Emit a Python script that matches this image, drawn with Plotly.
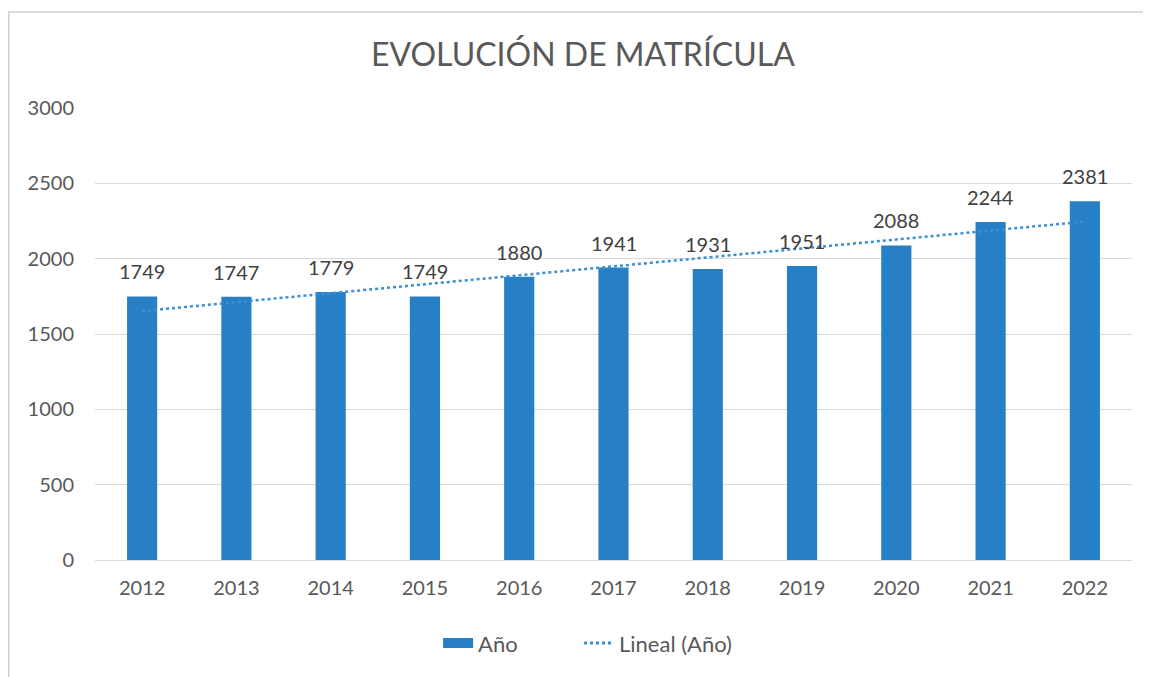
import plotly.graph_objects as go

years = ["2012", "2013", "2014", "2015", "2016", "2017", "2018", "2019", "2020", "2021", "2022"]
matricula = [1749, 1747, 1779, 1749, 1880, 1941, 1931, 1951, 2088, 2244, 2381]
trend_years = ["2012", "2022"]
trend_values = [1652, 2246]
y_ticks = [0, 500, 1000, 1500, 2000, 2500, 3000]

FONT = "Lato, 'Open Sans', sans-serif"
GREY = "#595959"
BLUE = "#2780C6"

W, H = 1143, 669
L, T, PW, PH = 87, 100, 1037, 452

fig = go.Figure()
fig.add_trace(go.Bar(
    x=years, y=matricula, name="Año", showlegend=False,
    marker=dict(color=BLUE, line=dict(width=0)),
))
fig.add_trace(go.Scatter(
    x=trend_years, y=trend_values, name="Lineal (Año)", mode="lines", showlegend=False,
    line=dict(color="#3A8FD6", width=2.5, dash="dot"),
))
# legend entries
fig.add_trace(go.Scatter(
    x=[years[0]], y=[None], name="Año" + "\u00a0" * 10, mode="lines",
    line=dict(color=BLUE, width=12),
))
fig.add_trace(go.Scatter(
    x=[years[0]], y=[None], name="Lineal (Año)", mode="lines",
    line=dict(color="#3A8FD6", width=3, dash="dot"),
))

annotations = [
    dict(x=i, y=v, xref="x", yref="y", text=str(v), showarrow=False,
         yanchor="bottom", yshift=11,
         font=dict(size=20, color="#404040", family=FONT))
    for i, v in enumerate(matricula)
]

fig.update_layout(
    width=W, height=H,
    paper_bgcolor="white", plot_bgcolor="white",
    margin=dict(l=L, r=W - L - PW, t=T, b=H - T - PH),
    bargap=0.68,
    title=dict(text="EVOLUCIÓN DE MATRÍCULA", x=0.503, xanchor="center",
               y=1 - 47 / H, yanchor="middle",
               font=dict(size=32, color=GREY, family=FONT)),
    font=dict(family=FONT, color=GREY),
    showlegend=True,
    legend=dict(orientation="h", x=0.475, xanchor="center", y=-0.184, yanchor="middle",
                font=dict(size=22, color=GREY, family=FONT)),
    xaxis=dict(type="category", categoryorder="array", categoryarray=years,
               range=[-0.5, len(years) - 0.5],
               showgrid=False, showline=False, ticks="",
               ticklabelstandoff=14,
               tickfont=dict(size=20, color=GREY, family=FONT)),
    yaxis=dict(range=[0, 3000], tickvals=y_ticks, showgrid=True, gridcolor="#D9D9D9",
               gridwidth=1.3, zeroline=True, zerolinecolor="#D9D9D9", zerolinewidth=1.3,
               showline=False, ticks="", ticklabelstandoff=20,
               tickfont=dict(size=20, color=GREY, family=FONT)),
    annotations=annotations,
    shapes=[dict(type="rect", xref="paper", yref="paper",
                 x0=(0.8 - L) / PW, x1=1.05, y0=-0.5, y1=1 + (T - 4) / PH,
                 line=dict(color="#D0D0D0", width=1.5), fillcolor="rgba(0,0,0,0)",
                 layer="below")],
)

fig.write_html("out.html")
